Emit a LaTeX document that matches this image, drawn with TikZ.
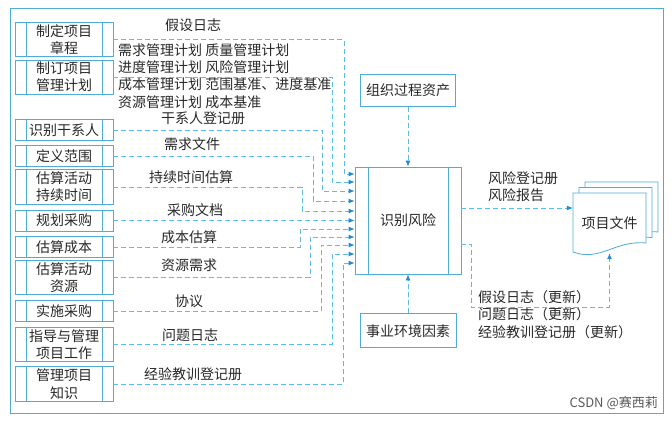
\documentclass[tikz,border=0pt]{standalone}
\usepackage{fontspec}
\newfontfamily\cjk{Noto Sans CJK SC}
\usepackage{tikz}
\usetikzlibrary{arrows.meta,positioning,backgrounds}
\definecolor{boxblue}{RGB}{78,172,214}
\definecolor{lineblue}{RGB}{92,190,228}
\definecolor{tipblue}{RGB}{30,140,215}
\definecolor{inkgray}{RGB}{40,40,40}

\begin{document}
\begin{tikzpicture}[x=1pt, y=-1pt, every node/.style={font=\cjk\fontsize{14}{17.3}\selectfont, text=inkgray}]
\tikzstyle{box}=[draw=boxblue, line width=0.8pt, align=center, inner xsep=3pt, inner ysep=2pt]
\tikzstyle{proc}=[box, minimum width=98pt, minimum height=21pt,
  path picture={\draw[boxblue, line width=0.8pt]
    ([xshift=11pt]path picture bounding box.north west) -- ([xshift=11pt]path picture bounding box.south west)
    ([xshift=-11pt]path picture bounding box.north east) -- ([xshift=-11pt]path picture bounding box.south east);}]
\tikzstyle{core}=[box, minimum width=106pt, minimum height=107pt,
  path picture={\draw[boxblue, line width=0.8pt]
    ([xshift=13pt]path picture bounding box.north west) -- ([xshift=13pt]path picture bounding box.south west)
    ([xshift=-13pt]path picture bounding box.north east) -- ([xshift=-13pt]path picture bounding box.south east);}]
\tikzstyle{flow}=[draw=lineblue, line width=0.8pt, dash pattern=on 5pt off 3pt, -{Latex[length=6pt,width=5pt,color=tipblue]}]
\tikzstyle{lbl}=[inner sep=1pt]
\useasboundingbox (0,0) rectangle (672,422);
\draw[boxblue, line width=0.9pt] (10,8) rectangle (663,413);

% processes on the left
\node[proc] (charter) at (64,39.5) {制定项目\\章程};
\node[proc] (pmplan) at (64,77) {制订项目\\管理计划};
\node[proc] (stake) at (64,130) {识别干系人};
\node[proc] (scope) at (64,156) {定义范围};
\node[proc] (durest) at (64,187) {估算活动\\持续时间};
\node[proc] (planproc) at (64,220.5) {规划采购};
\node[proc] (costest) at (64,247) {估算成本};
\node[proc] (resest) at (64,277.5) {估算活动\\资源};
\node[proc] (conduct) at (64,311) {实施采购};
\node[proc] (direct) at (64,344.5) {指导与管理\\项目工作};
\node[proc] (knowl) at (64,384) {管理项目\\知识};

% the process and its neighbours
\node[core] (risk) at (408,220.5) {识别风险};
\node[box, minimum width=95pt, minimum height=32pt, above=60pt of risk] (opa) {组织过程资产};
\node[box, minimum width=96pt, minimum height=34pt, below=39pt of risk] (eef) {事业环境因素};
\node[minimum width=73pt, minimum height=60pt, inner sep=0pt] (docs) at (609.5,223) {项目文件};
\begin{scope}[on background layer]
\foreach \dx/\dy in {12/-11, 6/-5.5, 0/0}
  \draw[boxblue, line width=0.8pt, fill=white] (573+\dx,193+\dy) -- (646+\dx,193+\dy) -- (646+\dx,243+\dy)
    .. controls (615+\dx,240+\dy) and (600+\dx,262+\dy) .. (573+\dx,252+\dy) -- cycle;
\end{scope}

% labels
\node[lbl] (lassume) at (193,25) {假设日志};
\node[lbl, anchor=west, align=left] (lplans) at (117,76) {需求管理计划 质量管理计划\\进度管理计划 风险管理计划\\成本管理计划 范围基准、进度基准\\资源管理计划 成本基准};
\node[lbl] (lregister) at (203,118) {干系人登记册};
\node[lbl] (lreq) at (192,144) {需求文件};
\node[lbl] (ldur) at (191,177) {持续时间估算};
\node[lbl] (lprocdoc) at (195,210) {采购文档};
\node[lbl] (lcost) at (189,237) {成本估算};
\node[lbl] (lres) at (189,265) {资源需求};
\node[lbl] (lagree) at (189,301) {协议};
\node[lbl] (lissue) at (190,335) {问题日志};
\node[lbl] (llesson) at (193,374) {经验教训登记册};
\node[lbl, anchor=west, align=left] (lout) at (487,187) {风险登记册\\风险报告};
\node[lbl, anchor=west, align=left] (lupd) at (477,314.5) {假设日志（更新）\\问题日志（更新）\\经验教训登记册（更新）};
\node[anchor=east, inner sep=0pt, font=\cjk\fontsize{13}{15}\selectfont, text=black!65] (mark) at (658,403) {CSDN @赛西莉};

% inputs
\draw[flow] (charter.east) -| (344,174) -- (risk.west |- 0,174);
\draw[flow] (pmplan.east) -| (332,182) -- (risk.west |- 0,182);
\draw[flow] (stake.east) -| (322,191) -- (risk.west |- 0,191);
\draw[flow] (scope.east) -| (313,201) -- (risk.west |- 0,201);
\draw[flow] (durest.east) -| (302,211) -- (risk.west |- 0,211);
\draw[flow] (planproc.east) -- (risk.west |- planproc.east);
\draw[flow] (costest.east) -| (300,229) -- (risk.west |- 0,229);
\draw[flow] (resest.east) -| (310,237) -- (risk.west |- 0,237);
\draw[flow] (conduct.east) -| (321,245) -- (risk.west |- 0,245);
\draw[flow] (direct.east) -| (332,254) -- (risk.west |- 0,254);
\draw[flow] (knowl.east) -| (343,263) -- (risk.west |- 0,263);
\draw[flow] (opa) -- (risk);
\draw[flow] (eef) -- (risk);

% outputs
\draw[flow] (risk.east |- 0,208) -- (docs.west |- 0,208);
\draw[flow] (risk.east |- 0,244) -| (471,307) -| (docs.south);
\end{tikzpicture}
\end{document}
